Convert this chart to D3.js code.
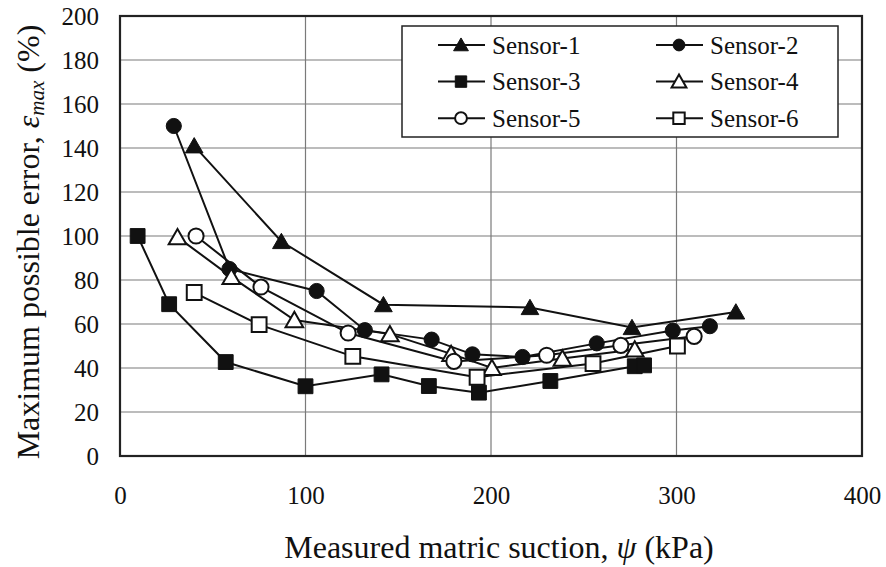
<!DOCTYPE html>
<html>
<head>
<meta charset="utf-8">
<script src="https://cdn.jsdelivr.net/npm/d3@7"></script>
<style>
  body { margin: 0; background: #fff; }
  svg text { font-family: "Liberation Serif", "Times New Roman", Times, serif; }
</style>
</head>
<body>
<svg></svg>
<script>
const width = 886;
const height = 567;
const serif = "'Liberation Serif', 'Times New Roman', Times, serif";

// x: measured matric suction (kPa), y: maximum possible error (%)
const sensor1X = [40, 87, 142, 221, 276, 332];
const sensor1Y = [141, 97.5, 68.8, 67.5, 58.4, 65.5];
const sensor2X = [29, 59, 106, 132, 168, 190, 217, 257, 298, 318];
const sensor2Y = [150, 85, 75, 57.2, 52.9, 46.2, 45, 51.2, 57, 59];
const sensor3X = [9.5, 26.5, 57, 100, 141, 166.5, 193.5, 232, 277.5, 282.5];
const sensor3Y = [100, 69, 42.7, 31.7, 37.1, 31.8, 28.8, 34.1, 40.8, 41.2];
const sensor4X = [31, 60, 94, 145.5, 178.5, 200.5, 238.5, 277.5];
const sensor4Y = [99.5, 81.4, 61.8, 55.4, 46.4, 40, 44.3, 48.4];
const sensor5X = [41, 76, 123, 180, 230, 270, 309.5];
const sensor5Y = [100, 76.8, 55.9, 43, 45.8, 50.3, 54.4];
const sensor6X = [40, 75, 125.5, 192.5, 255, 300.5];
const sensor6Y = [74.3, 59.7, 45.3, 35.8, 42, 50];

const seriesNames = ["Sensor-1", "Sensor-2", "Sensor-3", "Sensor-4", "Sensor-5", "Sensor-6"];
const xTicks = [0, 100, 200, 300, 400];
const yTicks = [0, 20, 40, 60, 80, 100, 120, 140, 160, 180, 200];

const series = [
  {name: seriesNames[0], xs: sensor1X, ys: sensor1Y, shape: "triangle", filled: true},
  {name: seriesNames[1], xs: sensor2X, ys: sensor2Y, shape: "circle", filled: true},
  {name: seriesNames[2], xs: sensor3X, ys: sensor3Y, shape: "square", filled: true},
  {name: seriesNames[3], xs: sensor4X, ys: sensor4Y, shape: "triangle", filled: false},
  {name: seriesNames[4], xs: sensor5X, ys: sensor5Y, shape: "circle", filled: false},
  {name: seriesNames[5], xs: sensor6X, ys: sensor6Y, shape: "square", filled: false}
].map(function (s) {
  s.points = s.xs.map(function (x, i) { return {x: x, y: s.ys[i]}; });
  return s;
});

const margin = {top: 16, right: 24, bottom: 111, left: 120};
const plotW = width - margin.left - margin.right;
const plotH = height - margin.top - margin.bottom;

const x = d3.scaleLinear().domain([0, 400]).range([0, plotW]);
const y = d3.scaleLinear().domain([0, 200]).range([plotH, 0]);

const svg = d3.select("svg")
  .attr("width", width)
  .attr("height", height);

const g = svg.append("g")
  .attr("transform", "translate(" + margin.left + "," + margin.top + ")");

// grid
g.append("g")
  .selectAll("line")
  .data(yTicks.slice(1, -1))
  .enter().append("line")
    .attr("x1", 0).attr("x2", plotW)
    .attr("y1", function (d) { return y(d); })
    .attr("y2", function (d) { return y(d); })
    .attr("stroke", "#7a7a7a").attr("stroke-width", 1.2);

g.append("g")
  .selectAll("line")
  .data(xTicks.slice(1, -1))
  .enter().append("line")
    .attr("y1", 0).attr("y2", plotH)
    .attr("x1", function (d) { return x(d); })
    .attr("x2", function (d) { return x(d); })
    .attr("stroke", "#7a7a7a").attr("stroke-width", 1.2);

// axes (labels only, frame drawn separately)
const xAxis = g.append("g")
  .attr("transform", "translate(0," + plotH + ")")
  .call(d3.axisBottom(x).tickValues(xTicks).tickSize(0).tickPadding(30));
const yAxis = g.append("g")
  .call(d3.axisLeft(y).tickValues(yTicks).tickSize(0).tickPadding(21));
[xAxis, yAxis].forEach(function (a) {
  a.attr("font-family", serif);
  a.select(".domain").remove();
  a.selectAll("text")
    .attr("font-family", serif)
    .attr("font-size", 25)
    .attr("fill", "#111");
});

// frame
g.append("rect")
  .attr("width", plotW).attr("height", plotH)
  .attr("fill", "none").attr("stroke", "#222").attr("stroke-width", 2.2);

const symbolType = {
  triangle: d3.symbolTriangle,
  circle: d3.symbolCircle,
  square: d3.symbolSquare
};
const symbolSize = {triangle: 135, circle: 180, square: 220};

const line = d3.line()
  .x(function (d) { return x(d.x); })
  .y(function (d) { return y(d.y); });

series.forEach(function (s) {
  g.append("path")
    .datum(s.points)
    .attr("d", line)
    .attr("fill", "none")
    .attr("stroke", "#111")
    .attr("stroke-width", 2);
});

series.forEach(function (s) {
  g.append("g")
    .selectAll("path")
    .data(s.points)
    .enter().append("path")
      .attr("d", d3.symbol().type(symbolType[s.shape]).size(symbolSize[s.shape]))
      .attr("transform", function (d) {
        const dy = s.shape === "triangle" ? 2 : 0;
        return "translate(" + x(d.x) + "," + (y(d.y) + dy) + ")";
      })
      .attr("fill", s.filled ? "#111" : "#fff")
      .attr("stroke", "#111")
      .attr("stroke-width", s.filled ? 1 : 2);
});

// legend
const legend = svg.append("g").attr("transform", "translate(402,26)");
legend.append("rect")
  .attr("width", 436).attr("height", 111)
  .attr("fill", "#fff").attr("stroke", "#222").attr("stroke-width", 1.5);

const legendItem = legend.selectAll(".item")
  .data(series)
  .enter().append("g")
    .attr("class", "item")
    .attr("transform", function (d, i) {
      return "translate(" + (i % 2 === 0 ? 36 : 254) + "," + (19 + Math.floor(i / 2) * 36.6) + ")";
    });

legendItem.append("line")
  .attr("x1", 0).attr("x2", 47)
  .attr("stroke", "#111").attr("stroke-width", 2);

legendItem.append("path")
  .attr("d", function (d) {
    const sz = {triangle: 95, circle: 110, square: 130};
    return d3.symbol().type(symbolType[d.shape]).size(sz[d.shape])();
  })
  .attr("transform", function (d) { return "translate(23," + (d.shape === "triangle" ? 1.5 : 0) + ")"; })
  .attr("fill", function (d) { return d.filled ? "#111" : "#fff"; })
  .attr("stroke", "#111")
  .attr("stroke-width", function (d) { return d.filled ? 1 : 2; });

legendItem.append("text")
  .attr("x", 54)
  .attr("dy", "0.35em")
  .attr("font-family", serif)
  .attr("font-size", 25)
  .attr("fill", "#111")
  .text(function (d) { return d.name; });

// axis titles
const xTitle = svg.append("text")
  .attr("x", margin.left + plotW / 2 + 8)
  .attr("y", 558)
  .attr("text-anchor", "middle")
  .attr("font-family", serif)
  .attr("font-size", 32)
  .attr("fill", "#111");
xTitle.append("tspan").text("Measured matric suction, ");
xTitle.append("tspan").attr("font-style", "italic").text("ψ");
xTitle.append("tspan").text(" (kPa)");

const yTitle = svg.append("text")
  .attr("transform", "translate(39," + (margin.top + plotH / 2 + 6) + ") rotate(-90)")
  .attr("text-anchor", "middle")
  .attr("font-family", serif)
  .attr("font-size", 32)
  .attr("fill", "#111");
yTitle.append("tspan").text("Maximum possible error,  ");
yTitle.append("tspan").attr("font-style", "italic").text("ε");
yTitle.append("tspan").attr("font-style", "italic").attr("font-size", 21).attr("dy", 5).text("max");
yTitle.append("tspan").attr("dy", -5).text(" (%)");
</script>
</body>
</html>
